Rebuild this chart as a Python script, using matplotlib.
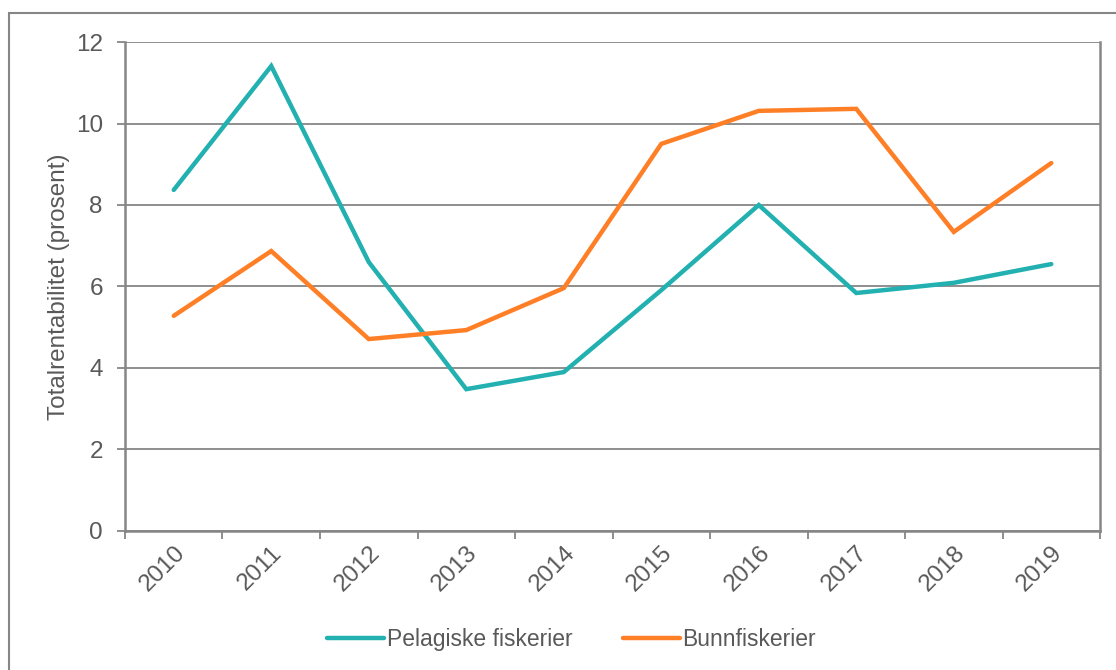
import matplotlib
matplotlib.use('Agg')
import matplotlib.pyplot as plt
from matplotlib.patches import Rectangle
import numpy as np

plt.rcParams['font.family'] = ['Liberation Sans', 'DejaVu Sans']

years = ['2010', '2011', '2012', '2013', '2014', '2015', '2016', '2017', '2018', '2019']
pelagiske = [8.37, 11.41, 6.6, 3.48, 3.9, 5.91, 8.0, 5.84, 6.09, 6.55]
bunnfisk = [5.28, 6.87, 4.71, 4.93, 5.96, 9.5, 10.31, 10.36, 7.34, 9.03]

text_col = '#595959'
axis_col = '#868686'
teal = '#22B0B0'
orange = '#FF7F27'

fig = plt.figure(figsize=(11.16, 6.7), dpi=100)
ax = fig.add_axes([0.112, 0.2075, 0.8737, 0.7298])

# outer frame of the chart
fig.patches.append(Rectangle((9 / 1116, -0.1), 1.2, 1 - 13 / 670 + 0.1,
                             transform=fig.transFigure, fill=False,
                             edgecolor=axis_col, linewidth=1.5))

x = np.arange(len(years))
ax.plot(x, pelagiske, color=teal, lw=3.2, label='Pelagiske fiskerier',
        solid_capstyle='round', solid_joinstyle='miter')
ax.plot(x, bunnfisk, color=orange, lw=3.2, label='Bunnfiskerier',
        solid_capstyle='round', solid_joinstyle='miter')

ax.set_xlim(-0.5, len(years) - 0.5)
ax.set_ylim(0, 12)
ax.set_yticks(range(0, 13, 2))
ax.grid(axis='y', color=axis_col, lw=1.3)
ax.set_axisbelow(True)

# ticks sit between categories, labels at category centres
ax.set_xticks(np.arange(len(years) + 1) - 0.5)
ax.set_xticklabels([])
ax.set_xticks(x, minor=True)
ax.set_xticklabels(years, minor=True, rotation=45, ha='right', va='top',
                   rotation_mode='anchor', fontsize=17.5, color=text_col)
ax.tick_params(axis='x', which='minor', length=0, pad=8)
ax.tick_params(axis='x', which='major', length=6, width=1.3, color=axis_col)
ax.tick_params(axis='y', length=6, width=1.3, color=axis_col,
               labelsize=17.5, labelcolor=text_col, pad=10)

for side in ['left', 'bottom', 'right']:
    ax.spines[side].set_color(axis_col)
    ax.spines[side].set_linewidth(1.8)
ax.spines['top'].set_visible(False)

ax.set_ylabel('Totalrentabilitet (prosent)', fontsize=17.5, color=text_col, labelpad=4)

fig.legend(loc='center', bbox_to_anchor=(0.512, 0.045), ncol=2, frameon=False,
           fontsize=16.5, labelcolor=text_col, handlelength=2.5, handletextpad=0.1,
           columnspacing=2.2)

fig.savefig('out.png', dpi=100)
